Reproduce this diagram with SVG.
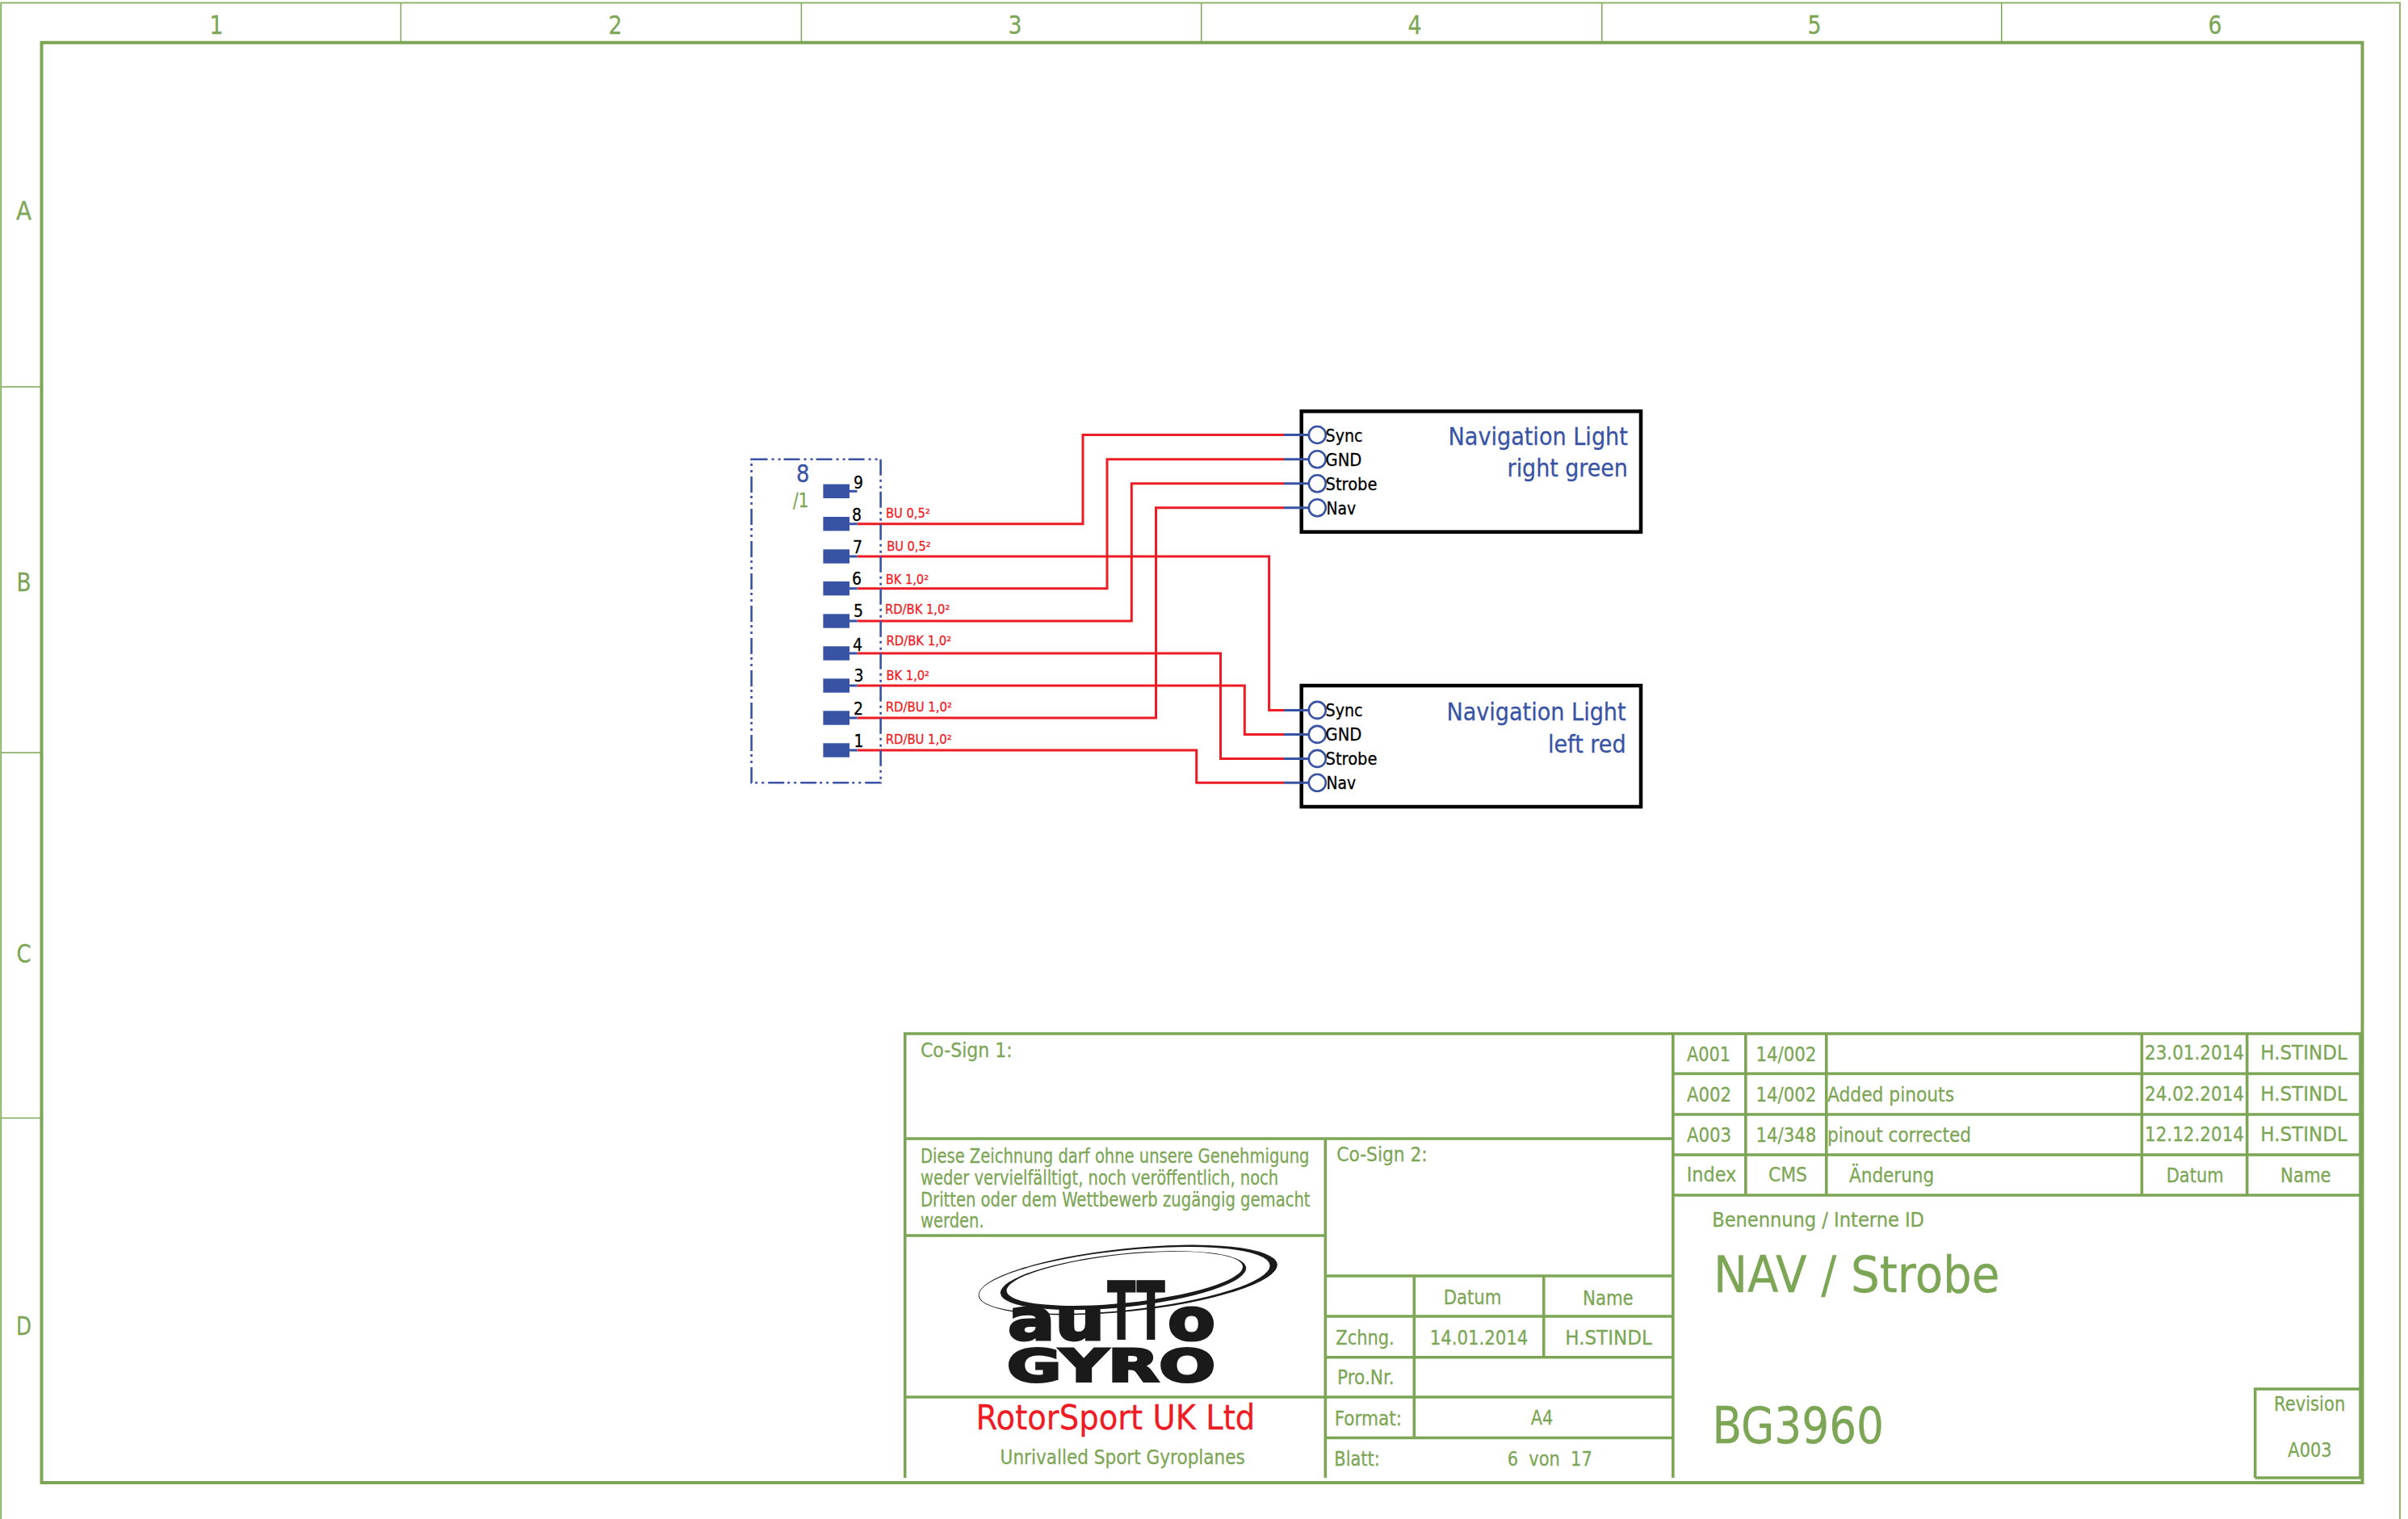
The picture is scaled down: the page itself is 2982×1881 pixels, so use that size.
<svg xmlns="http://www.w3.org/2000/svg" width="2982" height="1881" viewBox="0 0 2982 1881">
<style>
text{font-family:"DejaVu Sans","Liberation Sans",sans-serif;font-size:24px;color:#7ca655;fill:currentColor;stroke:currentColor;stroke-width:.3}
.thin{stroke:#8fb56d;stroke-width:2;fill:none}
.tick{stroke:#7ca655;stroke-width:1.5;fill:none}
.fr{stroke:#7ca655;stroke-width:4;fill:none}
.tb{stroke:#7ca655;stroke-width:3.6;fill:none}
.ref{font-size:32px;text-anchor:middle}
.wire{stroke:#ed1c24;stroke-width:3;fill:none}
.stub{stroke:#3953a4;stroke-width:3;fill:none}
.wl{font-size:16px;color:#ed1c24}
.pin{font-size:21.5px;color:#000}
.pad{fill:#3953a4}
.dash{stroke:#3953a4;stroke-width:2.6;fill:none;stroke-dasharray:20 5 3 5 3 4}
.bx{stroke:#000;stroke-width:4.5;fill:#fff}
.port{stroke:#3953a4;stroke-width:2.6;fill:none}
.pn{font-size:21.5px;color:#000}
.nt{font-size:31px;color:#3953a4}
.big{font-size:63px}
.lg{color:#1a1a1a;font-weight:bold}
</style>
<rect width="2982" height="1881" fill="#fff"/>
<g id="frame">
<path class="thin" d="M1.2 1881V3.5H2972V1881"/>
<path class="fr" d="M51.5 52.7H2925.5V1836H51.5Z"/>
<path class="tick" d="M496.4 4V52M992.4 4V52M1487.7 4V52M1983.7 4V52M2478.7 4V52M1.4 479H50M1.4 932H50M1.4 1384.5H50"/>
<text class="ref" x="268" y="41.5" textLength="17" lengthAdjust="spacingAndGlyphs">1</text><text class="ref" x="762" y="41.5" textLength="17" lengthAdjust="spacingAndGlyphs">2</text><text class="ref" x="1257" y="41.5" textLength="17" lengthAdjust="spacingAndGlyphs">3</text><text class="ref" x="1752" y="41.5" textLength="17" lengthAdjust="spacingAndGlyphs">4</text><text class="ref" x="2247" y="41.5" textLength="17" lengthAdjust="spacingAndGlyphs">5</text><text class="ref" x="2743" y="41.5" textLength="17" lengthAdjust="spacingAndGlyphs">6</text>
<text class="ref" x="29.5" y="272" textLength="19" lengthAdjust="spacingAndGlyphs">A</text><text class="ref" x="29.5" y="732" textLength="18" lengthAdjust="spacingAndGlyphs">B</text><text class="ref" x="29.5" y="1192" textLength="18" lengthAdjust="spacingAndGlyphs">C</text><text class="ref" x="29.5" y="1653" textLength="19" lengthAdjust="spacingAndGlyphs">D</text>
</g>
<g id="connectors">
<path class="wire" d="M1061.5 648.7H1341V538.5H1590"/>
<path class="wire" d="M1061.5 728.7H1371V568.8H1590"/>
<path class="wire" d="M1061.5 769H1401.3V598.8H1590"/>
<path class="wire" d="M1061.5 889H1431.5V628.8H1590"/>
<path class="wire" d="M1061.5 689H1571.6V879.4H1590"/>
<path class="wire" d="M1061.5 849H1541.3V909.4H1590"/>
<path class="wire" d="M1061.5 809H1511.5V939.4H1590"/>
<path class="wire" d="M1061.5 929H1481.7V969.3H1590"/>
<text class="wl" x="1097" y="641" textLength="54.8" lengthAdjust="spacingAndGlyphs">BU 0,5²</text>
<text class="wl" x="1098.2" y="681.5" textLength="54.4" lengthAdjust="spacingAndGlyphs">BU 0,5²</text>
<text class="wl" x="1096.7" y="723" textLength="53.3" lengthAdjust="spacingAndGlyphs">BK 1,0²</text>
<text class="wl" x="1096" y="760" textLength="80.3" lengthAdjust="spacingAndGlyphs">RD/BK 1,0²</text>
<text class="wl" x="1097.5" y="799" textLength="80.7" lengthAdjust="spacingAndGlyphs">RD/BK 1,0²</text>
<text class="wl" x="1097.5" y="842" textLength="53.5" lengthAdjust="spacingAndGlyphs">BK 1,0²</text>
<text class="wl" x="1096.7" y="881" textLength="82.3" lengthAdjust="spacingAndGlyphs">RD/BU 1,0²</text>
<text class="wl" x="1096.7" y="921" textLength="81.9" lengthAdjust="spacingAndGlyphs">RD/BU 1,0²</text>
</g>
<g id="connector-8">
<rect class="dash" x="930.6" y="568.7" width="160" height="400.6"/>
<text x="986" y="597" textLength="16.5" lengthAdjust="spacingAndGlyphs" style="font-size:30px;color:#3953a4">8</text>
<text x="982" y="628" textLength="19.4" lengthAdjust="spacingAndGlyphs">/1</text>
<rect class="pad" x="1019.4" y="599.6" width="32.6" height="17.4"/>
<rect class="pad" x="1019.4" y="640" width="32.6" height="17.4"/>
<rect class="pad" x="1019.4" y="680.3" width="32.6" height="17.4"/>
<rect class="pad" x="1019.4" y="720" width="32.6" height="17.4"/>
<rect class="pad" x="1019.4" y="760.3" width="32.6" height="17.4"/>
<rect class="pad" x="1019.4" y="800.3" width="32.6" height="17.4"/>
<rect class="pad" x="1019.4" y="840.3" width="32.6" height="17.4"/>
<rect class="pad" x="1019.4" y="880.3" width="32.6" height="17.4"/>
<rect class="pad" x="1019.4" y="920.3" width="32.6" height="17.4"/>
<path class="stub" d="M1052 608.3H1061.5M1052 648.7H1061.5M1052 689H1061.5M1052 728.7H1061.5M1052 769H1061.5M1052 809H1061.5M1052 849H1061.5M1052 889H1061.5M1052 929H1061.5"/>
<text class="pin" x="1057" y="604.5" textLength="12" lengthAdjust="spacingAndGlyphs">9</text>
<text class="pin" x="1055" y="645" textLength="12" lengthAdjust="spacingAndGlyphs">8</text>
<text class="pin" x="1056" y="684.5" textLength="12" lengthAdjust="spacingAndGlyphs">7</text>
<text class="pin" x="1055" y="724" textLength="12" lengthAdjust="spacingAndGlyphs">6</text>
<text class="pin" x="1057" y="763.5" textLength="12" lengthAdjust="spacingAndGlyphs">5</text>
<text class="pin" x="1056" y="805.5" textLength="12" lengthAdjust="spacingAndGlyphs">4</text>
<text class="pin" x="1057.5" y="844" textLength="12" lengthAdjust="spacingAndGlyphs">3</text>
<text class="pin" x="1057" y="885" textLength="12" lengthAdjust="spacingAndGlyphs">2</text>
<text class="pin" x="1057.5" y="925" textLength="12" lengthAdjust="spacingAndGlyphs">1</text>
</g>
<g id="nav-light-right-green">
<rect class="bx" x="1611.7" y="509.3" width="420.3" height="149.4"/>
<path class="stub" d="M1590 538.5H1620.8M1590 568.8H1620.8M1590 598.8H1620.8M1590 628.8H1620.8"/>
<circle class="port" cx="1631.3" cy="538.5" r="10.5"/><circle class="port" cx="1631.3" cy="568.8" r="10.5"/><circle class="port" cx="1631.3" cy="598.8" r="10.5"/><circle class="port" cx="1631.3" cy="628.8" r="10.5"/>
<text class="pn" x="1641.6" y="546.5" textLength="45.9" lengthAdjust="spacingAndGlyphs">Sync</text>
<text class="pn" x="1641.6" y="577" textLength="44.8" lengthAdjust="spacingAndGlyphs">GND</text>
<text class="pn" x="1641.6" y="607" textLength="63.9" lengthAdjust="spacingAndGlyphs">Strobe</text>
<text class="pn" x="1642.4" y="637" textLength="36.6" lengthAdjust="spacingAndGlyphs">Nav</text>
<text class="nt" x="1793.5" y="550.6" textLength="222.4" lengthAdjust="spacingAndGlyphs">Navigation Light</text>
<text class="nt" x="1866.6" y="590" textLength="149.3" lengthAdjust="spacingAndGlyphs">right green</text>
</g>
<g id="nav-light-left-red">
<rect class="bx" x="1611.7" y="849" width="420.3" height="150"/>
<path class="stub" d="M1590 879.4H1620.8M1590 909.4H1620.8M1590 939.4H1620.8M1590 969.3H1620.8"/>
<circle class="port" cx="1631.3" cy="879.4" r="10.5"/><circle class="port" cx="1631.3" cy="909.4" r="10.5"/><circle class="port" cx="1631.3" cy="939.4" r="10.5"/><circle class="port" cx="1631.3" cy="969.3" r="10.5"/>
<text class="pn" x="1641.6" y="887" textLength="45.9" lengthAdjust="spacingAndGlyphs">Sync</text>
<text class="pn" x="1641.6" y="917.3" textLength="44.8" lengthAdjust="spacingAndGlyphs">GND</text>
<text class="pn" x="1641.6" y="947" textLength="63.9" lengthAdjust="spacingAndGlyphs">Strobe</text>
<text class="pn" x="1642.4" y="977" textLength="36.6" lengthAdjust="spacingAndGlyphs">Nav</text>
<text class="nt" x="1791.5" y="891.5" textLength="222.1" lengthAdjust="spacingAndGlyphs">Navigation Light</text>
<text class="nt" x="1917" y="931.8" textLength="96.6" lengthAdjust="spacingAndGlyphs">left red</text>
</g>
<g id="title-block">
<path class="tb" d="M1120.7 1830V1280H2923V1830M1120.7 1410H2072M1120.7 1530H1641M1120.7 1730H1641M1641.3 1410V1830M2071.8 1280V1830M1641.3 1580H2071.8M1641.3 1630H2071.8M1641.3 1680.7H2071.8M1641.3 1730H2071.8M1641.3 1780.5H2071.8M1751.3 1580V1780.5M1911.7 1580V1680.7M2072 1329.5H2923M2072 1380H2923M2072 1430H2923M2072 1480H2923M2161.8 1280V1480M2261.7 1280V1480M2652.4 1280V1480M2782.7 1280V1480M2792.7 1830V1720H2923V1830H2792.7"/>
<text x="1140" y="1308.8" textLength="113.6" lengthAdjust="spacingAndGlyphs">Co-Sign 1:</text>
<text x="1140" y="1440" textLength="481.4" lengthAdjust="spacingAndGlyphs">Diese Zeichnung darf ohne unsere Genehmigung</text>
<text x="1140" y="1466.5" textLength="443.2" lengthAdjust="spacingAndGlyphs">weder vervielfälltigt, noch veröffentlich, noch</text>
<text x="1140" y="1493.5" textLength="482.5" lengthAdjust="spacingAndGlyphs">Dritten oder dem Wettbewerb zugängig gemacht</text>
<text x="1140" y="1520" textLength="78.6" lengthAdjust="spacingAndGlyphs">werden.</text>
<text x="1208.5" y="1770" textLength="345.8" lengthAdjust="spacingAndGlyphs" style="font-size:43px;color:#ed1c24">RotorSport UK Ltd</text>
<text x="1238.6" y="1813" textLength="303.2" lengthAdjust="spacingAndGlyphs" style="font-size:25px">Unrivalled Sport Gyroplanes</text>
<text x="1655.3" y="1438" textLength="112.4" lengthAdjust="spacingAndGlyphs">Co-Sign 2:</text>
<text x="1787.7" y="1615" textLength="71.6" lengthAdjust="spacingAndGlyphs">Datum</text>
<text x="1960" y="1616" textLength="62.7" lengthAdjust="spacingAndGlyphs">Name</text>
<text x="1654.3" y="1665" textLength="72.4" lengthAdjust="spacingAndGlyphs">Zchng.</text>
<text x="1770.7" y="1665" textLength="121.6" lengthAdjust="spacingAndGlyphs">14.01.2014</text>
<text x="1938.3" y="1665" textLength="107.4" lengthAdjust="spacingAndGlyphs">H.STINDL</text>
<text x="1656" y="1714" textLength="70.7" lengthAdjust="spacingAndGlyphs">Pro.Nr.</text>
<text x="1652.7" y="1764.6" textLength="83.3" lengthAdjust="spacingAndGlyphs">Format:</text>
<text x="1895.7" y="1764" textLength="27.6" lengthAdjust="spacingAndGlyphs">A4</text>
<text x="1652.3" y="1815" textLength="56.4" lengthAdjust="spacingAndGlyphs">Blatt:</text>
<text x="1866.7" y="1815" textLength="105" lengthAdjust="spacingAndGlyphs" xml:space="preserve">6  von  17</text>
<text x="2089" y="1313.7" textLength="54" lengthAdjust="spacingAndGlyphs">A001</text>
<text x="2089" y="1364" textLength="55" lengthAdjust="spacingAndGlyphs">A002</text>
<text x="2089" y="1413.5" textLength="55" lengthAdjust="spacingAndGlyphs">A003</text>
<text x="2088.7" y="1463" textLength="61.6" lengthAdjust="spacingAndGlyphs">Index</text>
<text x="2174.4" y="1313.7" textLength="75" lengthAdjust="spacingAndGlyphs">14/002</text>
<text x="2174.4" y="1364" textLength="75" lengthAdjust="spacingAndGlyphs">14/002</text>
<text x="2174.4" y="1413.5" textLength="75" lengthAdjust="spacingAndGlyphs">14/348</text>
<text x="2190" y="1463" textLength="48" lengthAdjust="spacingAndGlyphs">CMS</text>
<text x="2263" y="1364" textLength="157" lengthAdjust="spacingAndGlyphs">Added pinouts</text>
<text x="2263" y="1413.5" textLength="178" lengthAdjust="spacingAndGlyphs">pinout corrected</text>
<text x="2290" y="1464" textLength="105.2" lengthAdjust="spacingAndGlyphs">Änderung</text>
<text x="2656" y="1312" textLength="123" lengthAdjust="spacingAndGlyphs">23.01.2014</text>
<text x="2656" y="1362.7" textLength="123" lengthAdjust="spacingAndGlyphs">24.02.2014</text>
<text x="2656" y="1413.4" textLength="123" lengthAdjust="spacingAndGlyphs">12.12.2014</text>
<text x="2799.3" y="1312" textLength="107.4" lengthAdjust="spacingAndGlyphs">H.STINDL</text>
<text x="2799.3" y="1362.7" textLength="107.4" lengthAdjust="spacingAndGlyphs">H.STINDL</text>
<text x="2799.3" y="1413.4" textLength="107.4" lengthAdjust="spacingAndGlyphs">H.STINDL</text>
<text x="2682.7" y="1463.7" textLength="71" lengthAdjust="spacingAndGlyphs">Datum</text>
<text x="2824" y="1463.7" textLength="62.7" lengthAdjust="spacingAndGlyphs">Name</text>
<text x="2120.2" y="1519" textLength="262.8" lengthAdjust="spacingAndGlyphs">Benennung / Interne ID</text>
<text class="big" x="2122" y="1600" textLength="354.4" lengthAdjust="spacingAndGlyphs">NAV / Strobe</text>
<text class="big" x="2120.5" y="1787" textLength="212.4" lengthAdjust="spacingAndGlyphs">BG3960</text>
<text x="2816" y="1747" textLength="88.3" lengthAdjust="spacingAndGlyphs">Revision</text>
<text x="2833.3" y="1804" textLength="54.4" lengthAdjust="spacingAndGlyphs">A003</text>
</g>
<g id="logo">
<g transform="rotate(-6 1396.7 1585)">
<ellipse cx="1396.7" cy="1585" rx="186" ry="39" fill="#1a1a1a"/>
<ellipse cx="1392.5" cy="1585" rx="181" ry="37" fill="#fff"/>
<ellipse cx="1391" cy="1585" rx="153" ry="33" fill="#1a1a1a"/>
<ellipse cx="1393" cy="1583" rx="147" ry="30" fill="#fff"/>
</g>
<text class="lg" x="1248" y="1659" textLength="120" lengthAdjust="spacingAndGlyphs" style="font-size:72px;stroke-width:3">au</text>
<text class="lg" x="1371" y="1659" textLength="72" lengthAdjust="spacingAndGlyphs" style="font-size:100px;stroke-width:1">TT</text>
<text class="lg" x="1446" y="1659" textLength="59" lengthAdjust="spacingAndGlyphs" style="font-size:72px;stroke-width:3">o</text>
<text class="lg" x="1247" y="1710" textLength="258" lengthAdjust="spacingAndGlyphs" style="font-size:56px;stroke-width:3">GYRO</text>
</g>
</svg>
